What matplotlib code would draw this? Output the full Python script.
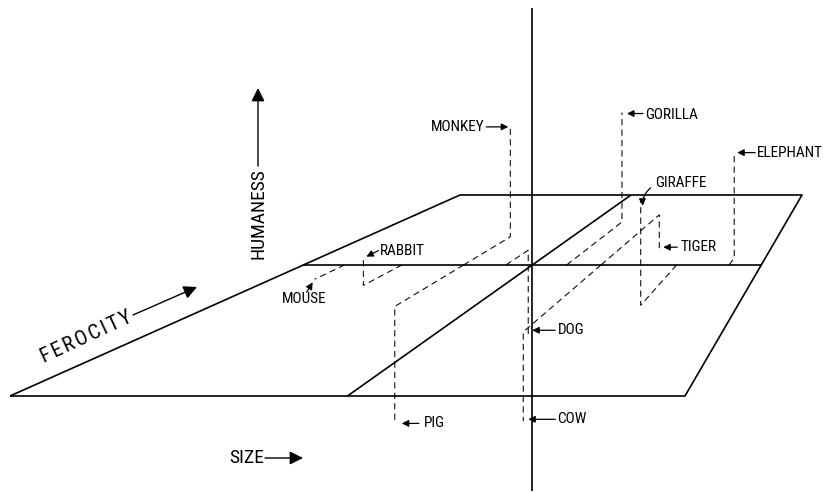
import matplotlib
matplotlib.use('Agg')
import matplotlib.pyplot as plt
from matplotlib import font_manager
import numpy as np

# animals placed in a 3-D "semantic space": size, ferocity, humaneness (-1..1)
animals = ['MOUSE', 'RABBIT', 'PIG', 'MONKEY', 'DOG', 'COW',
           'GORILLA', 'TIGER', 'GIRAFFE', 'ELEPHANT']
size = [-0.82, -0.57, -0.30, -0.30, -0.115, 0.30, 0.15, 0.30, 0.63, 0.86]
ferocity = [-0.15, -0.21, -0.40, 0.34, 0.17, -0.60, 0.55, 0.66, -0.39, 0.08]
humaneness = [0.0, 0.10, -0.42, 0.51, -0.37, -0.30, 0.54, -0.17, 0.38, 0.45]

# label placement: arrow tip, arrow tail, text anchor (pixel offsets from the point)
label_pos = {
    'MOUSE':    ((-2, 3), (-8, 13), (-10, 20), 'center'),
    'RABBIT':   ((3, -3), (15, -9), (17, -9), 'left'),
    'PIG':      ((7, 1), (24, 1), (29, 1), 'left'),
    'MONKEY':   ((-2, 0), (-24, 0), (-26, 0), 'right'),
    'DOG':      ((4, -4), (27, -4), (30, -4), 'left'),
    'COW':      ((5, -2), (32, -2), (34, -2), 'left'),
    'GORILLA':  ((5, 1), (21, 1), (23, 2), 'left'),
    'TIGER':    ((4, -1), (18, -1), (21, -1), 'left'),
    'GIRAFFE':  ((2, 5), (10, -13), (14, -18), 'left'),
    'ELEPHANT': ((3, 0), (21, 0), (23, 0), 'left'),
}

# pick a narrow sans if one is installed
names = {f.name for f in font_manager.fontManager.ttflist}
narrow = [n for n in ['Liberation Sans Narrow', 'Arial Narrow', 'Roboto Condensed',
                      'Open Sans Condensed'] if n in names]
FONT = narrow[:1] + ['DejaVu Sans']
STRETCH = 'normal' if narrow else 'condensed'
fs_small = 11 if narrow else 9
fs_big = 14 if narrow else 12

fig = plt.figure(figsize=(8.3, 4.92), dpi=100)
ax = fig.add_axes([0, 0, 1, 1])
ax.set_xlim(0, 830)
ax.set_ylim(492, 0)
ax.axis('off')


# simple perspective projection onto the page (pixel units)
def depth(f):
    u = (np.asarray(f, dtype=float) + 1) / 2
    return u * 1.874 / (1 + 0.874 * u)


def proj(s, f, h=0.0):
    t = depth(f)
    left = 10 + 450 * t
    right = 685 + 117 * t
    w = right - left
    x = left + (np.asarray(s, dtype=float) + 1) / 2 * w
    y = 396 - 201 * t - np.asarray(h, dtype=float) * 240 * w / 457.9
    return x, y


lw_main = 1.2
solid = dict(color='k', lw=lw_main, solid_capstyle='butt')
dash = dict(color='k', lw=0.75, linestyle=(0, (6, 4)))

# ground plane
cs = np.array([-1, 1, 1, -1, -1])
cf = np.array([-1, -1, 1, 1, -1])
px, py = proj(cs, cf)
ax.plot(px, py, **solid)
# size axis (ferocity = 0) and ferocity axis (size = 0)
px, py = proj([-1, 1], [0, 0])
ax.plot(px, py, **solid)
px, py = proj([0, 0], [-1, 1])
ax.plot(px, py, **solid)
# humaneness axis
px, py = proj([0, 0], [0, 0], [-0.94, 1.07])
ax.plot(px, py, **solid)

# drop lines and labels
for name, s, f, h in zip(animals, size, ferocity, humaneness):
    xs, ys = proj([s, s, s], [0, f, f], [0, 0, h])
    ax.plot(xs, ys, **dash)
    x0, y0 = xs[-1], ys[-1]
    tip, tail, txt, ha = label_pos[name]
    rad = 0.25 if name == 'GIRAFFE' else 0.0
    ax.annotate('', xy=(x0 + tip[0], y0 + tip[1]),
                xytext=(x0 + tail[0], y0 + tail[1]),
                arrowprops=dict(arrowstyle='-|>', color='k', lw=0.9,
                                mutation_scale=10, shrinkA=0, shrinkB=0,
                                connectionstyle=f'arc3,rad={rad}'))
    ax.text(x0 + txt[0], y0 + txt[1], name, ha=ha, va='center',
            fontsize=fs_small, family=FONT, fontstretch=STRETCH)

# axis names
big = dict(arrowstyle='-|>', color='k', lw=1.0, mutation_scale=20,
           shrinkA=0, shrinkB=0)
ax.text(247, 458, 'SIZE', ha='center', va='center', fontsize=fs_big,
        family=FONT, fontstretch=STRETCH)
ax.annotate('', xy=(303, 458), xytext=(265, 458), arrowprops=big)

ax.text(258, 214, 'HUMANESS', ha='center', va='center', rotation=90,
        fontsize=fs_big, family=FONT, fontstretch=STRETCH)
ax.annotate('', xy=(258, 88), xytext=(258, 166), arrowprops=big)

ax.text(86, 337, '\u200a'.join('FEROCITY'), ha='center', va='center',
        rotation=25, fontsize=fs_big + 1, family=FONT, fontstretch=STRETCH)
ax.annotate('', xy=(197, 287), xytext=(133, 315), arrowprops=big)

fig.savefig('out.png', dpi=100)
